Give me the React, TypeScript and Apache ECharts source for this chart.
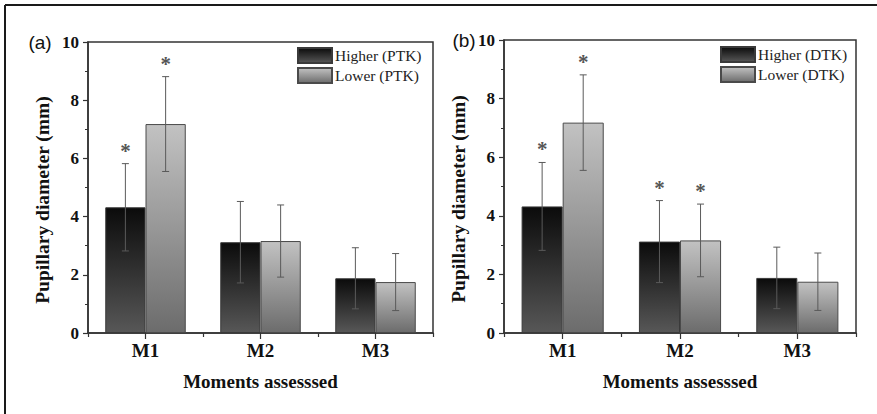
import React, { useEffect, useRef } from "react";
import * as echarts from "echarts";

const categories = ["M1", "M2", "M3"];
const yTicks = [0, 2, 4, 6, 8, 10];
const higherMean = [4.32, 3.12, 1.88];
const higherSD = [1.5, 1.4, 1.05];
const lowerMean = [7.18, 3.16, 1.75];
const lowerSD = [1.63, 1.24, 0.98];
// significance markers (1 = asterisk)
const sigHigherA = [1, 0, 0];
const sigLowerA = [1, 0, 0];
const sigHigherB = [1, 1, 0];
const sigLowerB = [1, 1, 0];
const panelLabels = ["(a)", "(b)"];
const groupNamesA = ["Higher (PTK)", "Lower (PTK)"];
const groupNamesB = ["Higher (DTK)", "Lower (DTK)"];
const xName = "Moments assesssed";
const yName = "Pupillary diameter (mm)";

const SERIF = "'Liberation Serif', 'Times New Roman', serif";
const SANS = "'Liberation Sans', Arial, sans-serif";

const darkGrad = () =>
  new echarts.graphic.LinearGradient(0, 0, 0, 1, [
    { offset: 0, color: "#0b0b0b" },
    { offset: 1, color: "#575757" },
  ]);
const lightGrad = () =>
  new echarts.graphic.LinearGradient(0, 0, 0, 1, [
    { offset: 0, color: "#c2c2c2" },
    { offset: 1, color: "#6c6c6c" },
  ]);

function errData(mean: number[], sd: number[], sig: number[], side: number) {
  return mean.map((m, i) => [i, m, sd[i], side, sig[i]]);
}

const renderErr = (params: any, api: any) => {
  const i = api.value(0);
  const m = api.value(1);
  const sd = api.value(2);
  const side = api.value(3);
  const sig = api.value(4);
  const catW = api.size([1, 0])[0];
  const off = side * catW * 0.175;
  const top = api.coord([i, m + sd]);
  const bot = api.coord([i, m - sd]);
  const x = top[0] + off;
  const cap = 3.5;
  const st = { stroke: "#5a5a5a", lineWidth: 1 };
  const children: any[] = [
    { type: "line", shape: { x1: x, y1: top[1], x2: x, y2: bot[1] }, style: st },
    { type: "line", shape: { x1: x - cap, y1: top[1], x2: x + cap, y2: top[1] }, style: st },
    { type: "line", shape: { x1: x - cap, y1: bot[1], x2: x + cap, y2: bot[1] }, style: st },
  ];
  if (sig) {
    children.push({
      type: "text",
      x: x,
      y: top[1] - 13,
      style: {
        text: "*",
        fill: "#555",
        font: `bold 21px ${SERIF}`,
        textAlign: "center",
        textVerticalAlign: "middle",
      },
    });
  }
  return { type: "group", children };
};

export default function App() {
  const ref = useRef<HTMLDivElement>(null);
  useEffect(() => {
    if (!ref.current) return;
    const chart = echarts.init(ref.current, undefined, { renderer: "svg" });

    const grids = [
      { left: 88, top: 42, width: 345, height: 291 },
      { left: 504, top: 40, width: 352, height: 293 },
    ];

    const xAxes: any[] = [];
    const yAxes: any[] = [];
    grids.forEach((g, gi) => {
      xAxes.push({
        type: "category",
        gridIndex: gi,
        position: "bottom",
        data: categories,
        name: xName,
        nameLocation: "middle",
        nameGap: 39,
        nameTextStyle: { fontFamily: SERIF, fontWeight: "bold", fontSize: 19, color: "#111" },
        axisLine: { show: true, lineStyle: { color: "#333", width: 1.5 } },
        axisTick: { show: true, alignWithLabel: true, length: 6, lineStyle: { color: "#333", width: 1.2 } },
        axisLabel: { fontFamily: SERIF, fontWeight: "bold", fontSize: 19, color: "#111", margin: 8 },
        splitLine: { show: false },
      });
      xAxes.push({
        type: "category",
        gridIndex: gi,
        position: "bottom",
        data: categories,
        axisLine: { show: false },
        axisTick: { show: true, alignWithLabel: false, length: 4, lineStyle: { color: "#333", width: 1.2 } },
        axisLabel: { show: false },
        splitLine: { show: false },
      });
      yAxes.push({
        type: "value",
        gridIndex: gi,
        min: yTicks[0],
        max: yTicks[yTicks.length - 1],
        interval: 2,
        name: yName,
        nameLocation: "middle",
        nameGap: 36,
        nameTextStyle: {
          fontFamily: SERIF,
          fontWeight: "bold",
          fontSize: 19.5,
          color: "#111",
          padding: [0, 25, 0, 0],
        },
        axisLine: { show: true, lineStyle: { color: "#333", width: 1.5 } },
        axisTick: { show: true, length: 5, lineStyle: { color: "#333", width: 1.2 } },
        minorTick: { show: true, splitNumber: 2, length: 3, lineStyle: { color: "#333", width: 1 } },
        axisLabel: { fontFamily: SERIF, fontWeight: "bold", fontSize: 17, color: "#111", margin: 9 },
        splitLine: { show: false },
      });
    });

    const panels = [
      { names: groupNamesA, sigH: sigHigherA, sigL: sigLowerA },
      { names: groupNamesB, sigH: sigHigherB, sigL: sigLowerB },
    ];
    const series: any[] = [];
    panels.forEach((p, gi) => {
      series.push({
        type: "bar",
        name: p.names[0],
        xAxisIndex: gi * 2,
        yAxisIndex: gi,
        data: higherMean,
        barGap: "0%",
        barCategoryGap: "30%",
        itemStyle: { color: darkGrad(), borderColor: "#3a3a3a", borderWidth: 1 },
      });
      series.push({
        type: "bar",
        name: p.names[1],
        xAxisIndex: gi * 2,
        yAxisIndex: gi,
        data: lowerMean,
        barGap: "0%",
        barCategoryGap: "30%",
        itemStyle: { color: lightGrad(), borderColor: "#4a4a4a", borderWidth: 1 },
      });
      series.push({
        type: "custom",
        xAxisIndex: gi * 2,
        yAxisIndex: gi,
        renderItem: renderErr,
        data: errData(higherMean, higherSD, p.sigH, -1),
        z: 5,
        silent: true,
      });
      series.push({
        type: "custom",
        xAxisIndex: gi * 2,
        yAxisIndex: gi,
        renderItem: renderErr,
        data: errData(lowerMean, lowerSD, p.sigL, 1),
        z: 5,
        silent: true,
      });
    });

    const legendCommon = {
      orient: "vertical",
      itemWidth: 34,
      itemHeight: 15,
      itemGap: 3,
      icon: "rect",
      textStyle: { fontFamily: SERIF, fontSize: 15.5, color: "#222", padding: [0, 0, 0, -2] },
      padding: 0,
    };

    chart.setOption({
      animation: false,
      backgroundColor: "#fff",
      grid: grids.map((g) => ({ ...g, show: true, borderColor: "#333", borderWidth: 1.5, backgroundColor: "transparent" })),
      xAxis: xAxes,
      yAxis: yAxes,
      legend: [
        { ...legendCommon, left: 297, top: 47, data: groupNamesA },
        { ...legendCommon, left: 720, top: 46, data: groupNamesB },
      ],
      series,
      graphic: [
        { type: "line", shape: { x1: 5, y1: 5, x2: 877, y2: 5 }, style: { stroke: "#1a1a1a", lineWidth: 2 } },
        { type: "line", shape: { x1: 5, y1: 5, x2: 5, y2: 414 }, style: { stroke: "#1a1a1a", lineWidth: 2 } },
        {
          type: "text",
          x: 40,
          y: 42,
          style: { text: panelLabels[0], font: `19px ${SANS}`, fill: "#111", textAlign: "center", textVerticalAlign: "middle" },
        },
        {
          type: "text",
          x: 464,
          y: 40,
          style: { text: panelLabels[1], font: `19px ${SANS}`, fill: "#111", textAlign: "center", textVerticalAlign: "middle" },
        },
      ],
    });
    return () => chart.dispose();
  }, []);
  return (
    <div
      ref={ref}
      style={{ position: "fixed", left: 0, top: 0, width: 877, height: 414 }}
    />
  );
}
